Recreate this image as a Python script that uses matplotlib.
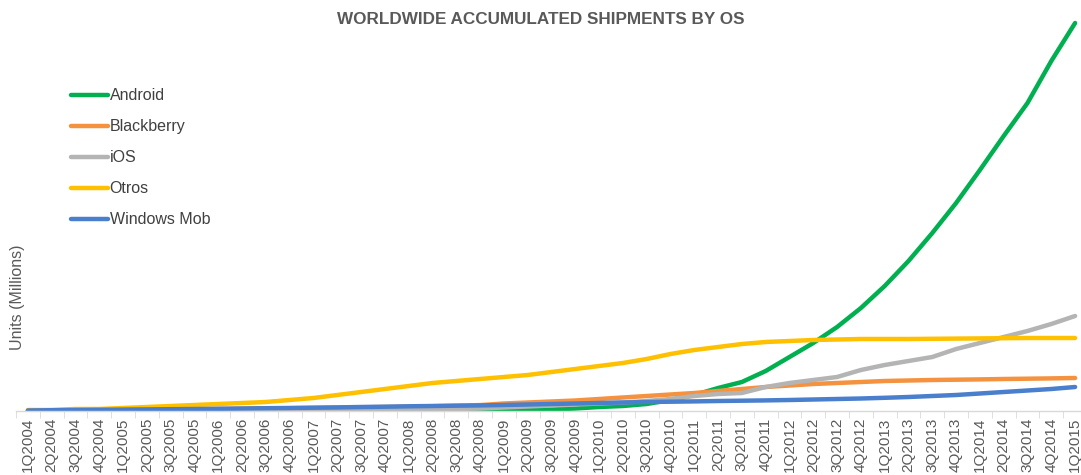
#!/usr/bin/env python3

import matplotlib
matplotlib.use("Agg")
import matplotlib.pyplot as plt
import numpy as np

plt.rcParams['font.family'] = ['Liberation Sans', 'DejaVu Sans']

# trimestres 1Q2004 .. 1Q2015
quarters = []
for year in range(2004, 2016):
    for q in range(1, 5):
        quarters.append("%dQ%d" % (q, year))
quarters = quarters[:45]

# acumulado (unidades, sin escala visible)
android = [0, 0, 0, 0, 0, 0, 0, 0, 0, 0,
           0, 0, 0, 0, 0, 0, 0, 0, 0, 0.3,
           0.5, 1, 1.5, 2.5, 4, 5, 7, 11, 16, 23,
           29, 40, 54, 68, 84, 103, 125, 150, 178, 208,
           241, 275, 308, 350, 388]
blackberry = [0.4, 0.7, 0.9, 1.1, 1.3, 1.5, 1.7, 1.9, 2.1, 2.3,
              2.6, 2.8, 3.1, 3.4, 3.7, 4.0, 4.4, 4.8, 5.3, 5.9,
              7.5, 8.5, 9.5, 10.5, 12, 13.5, 15, 16.5, 18, 20,
              22, 24, 25.5, 27, 28, 29, 30, 30.5, 31, 31.3,
              31.6, 32, 32.3, 32.6, 33]
ios = [0, 0, 0, 0, 0, 0, 0, 0, 0, 0,
       0, 0, 0, 0, 0.3, 0.5, 1, 1.5, 2, 2.5,
       3.5, 4.5, 5.5, 6.5, 7.5, 8.5, 10, 12, 15, 17,
       18, 24, 28, 31, 34, 41, 46, 50, 54, 62,
       68, 74, 80, 87, 95]
otros = [1, 1, 2, 2, 3, 4, 5, 6, 7, 8,
         9, 11, 13, 16, 19, 22, 25, 28, 30, 32,
         34, 36, 39, 42, 45, 48, 52, 57, 61, 64,
         67, 69, 70, 71, 71.5, 72, 72, 72, 72.2, 72.4,
         72.6, 72.8, 73, 73, 73]
windows = [0.5, 0.8, 1, 1.2, 1.4, 1.6, 1.8, 2, 2.2, 2.5,
           2.8, 3, 3.3, 3.6, 4, 4.3, 4.7, 5, 5.3, 5.6,
           6, 6.5, 7, 7.5, 8, 8.5, 9, 9.3, 9.6, 10,
           10.3, 10.6, 11, 11.5, 12, 12.5, 13.2, 14, 15, 16,
           17.5, 19, 20.5, 22, 24]

series = [("Android", android, "#00B050"),
          ("Blackberry", blackberry, "#F4923F"),
          ("iOS", ios, "#B4B4B4"),
          ("Otros", otros, "#FFC000"),
          ("Windows Mob", windows, "#4A7FCD")]

fig = plt.figure(figsize=(10.81, 4.75), dpi=100)
ax = fig.add_axes([16 / 1081, 64 / 475, 1071 / 1081, 395 / 475])

x = np.arange(len(quarters))
for name, vals, color in series:
    ax.plot(x, vals, color=color, lw=3.2, label=name,
            solid_capstyle='round', solid_joinstyle='round')

ax.set_xlim(-0.5, len(quarters) - 0.5)
ax.set_ylim(0, 395)

for s in ['top', 'right', 'left']:
    ax.spines[s].set_visible(False)
ax.spines['bottom'].set_color('#D9D9D9')
ax.spines['bottom'].set_linewidth(1)
ax.set_yticks([])

ax.set_xticks(x)
ax.set_xticklabels(quarters, rotation=90, fontsize=11, color='#595959')
ax.tick_params(axis='x', which='major', length=0, pad=5)
ax.set_xticks(np.arange(-0.5, len(quarters), 1), minor=True)
ax.tick_params(axis='x', which='minor', length=5, color='#D9D9D9')

fig.text(0.5, 1 - 20 / 475, "WORLDWIDE ACCUMULATED SHIPMENTS BY OS",
         ha='center', va='center', fontsize=12.3, fontweight='bold', color='#595959')
fig.text(18 / 1081, 1 - 297 / 475, "Units (Millions)", rotation=90,
         ha='center', va='center', fontsize=11.5, color='#595959')

leg = ax.legend(loc='upper left', bbox_to_anchor=(57 / 1081, 1 - 74 / 475),
                bbox_transform=fig.transFigure, frameon=False, fontsize=11.5,
                handlelength=2.3, handletextpad=0.1, labelspacing=1.0)
for t in leg.get_texts():
    t.set_color('#404040')

fig.savefig("out.png", dpi=100)
